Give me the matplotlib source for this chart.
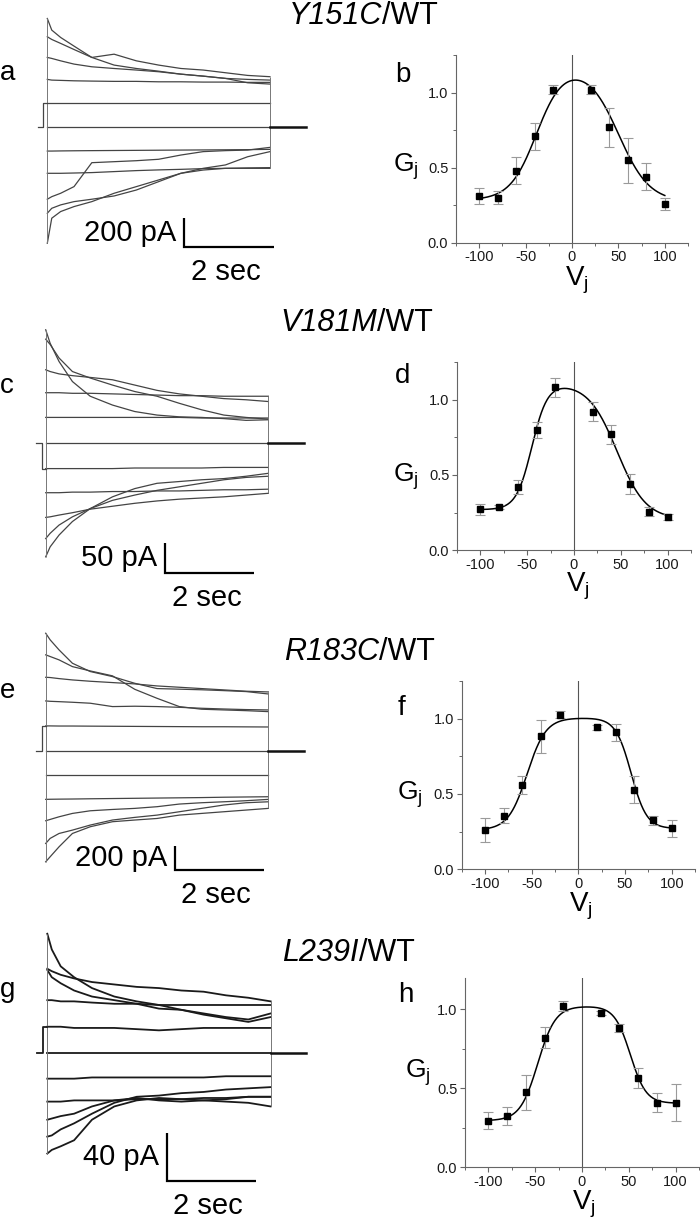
import numpy as np
import matplotlib
matplotlib.use('Agg')
import matplotlib.pyplot as plt
from matplotlib.ticker import MultipleLocator, FormatStrFormatter

plt.rcParams['font.family'] = ['Liberation Sans', 'DejaVu Sans']
plt.rcParams['mathtext.fontset'] = 'custom'
plt.rcParams['mathtext.rm'] = 'Liberation Sans'
plt.rcParams['mathtext.it'] = 'Liberation Sans:italic'
plt.rcParams['axes.unicode_minus'] = False

W, H = 700, 1225

# ---- junctional conductance data (Gj vs Vj) ----
vj = [-100, -80, -60, -40, -20, 20, 40, 60, 80, 100]

gj_y151c = [0.31, 0.30, 0.48, 0.71, 1.02, 1.02, 0.77, 0.55, 0.44, 0.26]
err_y151c = [0.055, 0.045, 0.09, 0.09, 0.027, 0.03, 0.13, 0.15, 0.09, 0.04]
gj_v181m = [0.273, 0.287, 0.42, 0.80, 1.082, 0.92, 0.769, 0.44, 0.256, 0.222]
err_v181m = [0.036, 0.015, 0.047, 0.055, 0.063, 0.063, 0.062, 0.067, 0.03, 0.02]
gj_r183c = [0.26, 0.356, 0.56, 0.882, 1.027, 0.942, 0.909, 0.529, 0.324, 0.271]
err_r183c = [0.08, 0.05, 0.06, 0.11, 0.025, 0.015, 0.058, 0.09, 0.03, 0.058]
gj_l239i = [0.295, 0.325, 0.475, 0.82, 1.02, 0.977, 0.884, 0.563, 0.41, 0.41]
err_l239i = [0.054, 0.055, 0.11, 0.065, 0.03, 0.015, 0.025, 0.063, 0.06, 0.12]

# two-sided Boltzmann fit parameters: gmax, gmin_l, v0_l, a_l, gmin_r, v0_r, a_r
fit_y151c = [1.18, 0.24, -38, 0.07, 0.23, 50, 0.06]
fit_v181m = [1.11, 0.243, -45, 0.12, 0.185, 46, 0.065]
fit_r183c = [1.005, 0.259, -55, 0.099, 0.269, 56.5, 0.12]
fit_l239i = [1.02, 0.289, -47.2, 0.106, 0.397, 51.6, 0.119]

# ---- current traces (pA) sampled during the 5 s voltage pulse ----
t_pulse = [0, 0.1, 0.3, 0.6, 1.0, 1.5, 2.0, 2.5, 3.0, 3.5, 4.0, 4.5, 5.0]

traces_y151c = [
    [764, 682, 630, 569, 489, 512, 465, 435, 411, 400, 381, 362, 353],
    [635, 616, 588, 545, 489, 435, 411, 392, 371, 357, 341, 310, 301],
    [489, 482, 465, 442, 423, 411, 400, 388, 371, 357, 341, 334, 329],
    [334, 329, 327, 324, 322, 320, 320, 317, 317, 315, 315, 313, 313],
    [165, 165, 165, 165, 165, 165, 165, 165, 165, 165, 165, 165, 165],
    [0, 0, 0, 0, 0, 0, 0, 0, 0, 0, 0, 0, 0],
    [-172, -172, -171, -170, -169, -168, -167, -166, -165, -164, -163, -162, -160],
    [-329, -329, -329, -327, -324, -317, -310, -305, -301, -296, -294, -291, -289],
    [-512, -494, -470, -423, -254, -247, -240, -230, -200, -176, -169, -165, -146],
    [-611, -576, -552, -529, -512, -489, -447, -388, -329, -294, -270, -212, -176],
    [-823, -646, -599, -564, -529, -470, -423, -376, -329, -306, -294, -294, -294],
]
traces_v181m = [
    [193, 170, 139, 105, 80, 65, 54, 48, 45, 44, 42, 39, 40],
    [177, 168, 145, 122, 111, 99, 88, 80, 68, 57, 48, 44, 41],
    [125, 122, 118, 115, 112, 108, 99, 90, 84, 80, 76, 74, 71],
    [86, 86, 86, 85, 85, 84, 83, 82, 81, 81, 80, 80, 80],
    [44, 44, 44, 44, 44, 44, 44, 44, 44, 43, 43, 43, 43],
    [0, 0, 0, 0, 0, 0, 0, 0, 0, 0, 0, 0, 0],
    [-43, -43, -43, -43, -43, -43, -42, -42, -42, -42, -41, -41, -41],
    [-84, -84, -84, -83, -83, -82, -82, -81, -81, -80, -79, -79, -78],
    [-126, -125, -122, -118, -112, -107, -102, -98, -95, -93, -91, -88, -85],
    [-162, -153, -139, -125, -111, -97, -88, -80, -74, -68, -62, -58, -56],
    [-193, -176, -156, -133, -111, -91, -77, -68, -65, -62, -60, -56, -51],
]
traces_r183c = [
    [981, 926, 842, 731, 662, 620, 564, 520, 515, 510, 503, 495, 475],
    [801, 787, 759, 703, 667, 626, 514, 439, 370, 348, 342, 336, 328],
    [614, 612, 603, 592, 581, 570, 559, 542, 531, 520, 509, 498, 492],
    [417, 414, 411, 406, 398, 370, 373, 370, 364, 356, 350, 345, 342],
    [209, 209, 208, 208, 207, 206, 205, 204, 203, 202, 202, 201, 200],
    [0, 0, 0, 0, 0, 0, 0, 0, 0, 0, 0, 0, 0],
    [-200, -200, -200, -200, -200, -200, -200, -200, -200, -200, -200, -200, -200],
    [-403, -402, -401, -400, -398, -396, -394, -392, -390, -388, -385, -383, -381],
    [-581, -570, -548, -520, -498, -487, -478, -464, -442, -431, -423, -414, -403],
    [-770, -728, -687, -659, -617, -575, -553, -534, -506, -478, -450, -431, -423],
    [-923, -881, -798, -687, -631, -589, -575, -562, -534, -520, -506, -492, -478],
]
traces_l239i = [
    [99, 86, 72, 63, 54, 47, 43, 40, 36, 32, 29, 26, 30],
    [70, 68, 65, 62, 59, 57, 55, 54, 52, 51, 48, 46, 43],
    [69, 63, 58, 52, 47, 44, 41, 37, 36, 33, 30, 28, 33],
    [44, 44, 43, 43, 42, 41, 41, 40, 40, 40, 40, 40, 40],
    [22, 22, 22, 21, 21, 21, 20, 19, 20, 21, 21, 21, 21],
    [0, 0, 0, 0, 0, 0, 0, 0, 0, 0, 0, 0, 0],
    [-21, -21, -21, -21, -20, -20, -20, -20, -20, -20, -19, -19, -19],
    [-40, -40, -40, -39, -39, -39, -38, -38, -38, -37, -37, -36, -36],
    [-55, -54, -52, -50, -44, -39, -37, -39, -40, -39, -38, -36, -36],
    [-69, -68, -63, -58, -50, -41, -36, -35, -33, -32, -30, -29, -28],
    [-83, -80, -77, -72, -55, -44, -39, -37, -38, -39, -40, -41, -44],
]

# level of the short pre-pulse step seen before each record (pA)
prestep_pa = [165, -43, 209, 22]

fig = plt.figure(figsize=(W / 100, H / 100), dpi=100)
PT = 0.72  # points per pixel at 100 dpi


def fx(x):
    return x / W


def fy(y):
    return 1 - y / H


def boltz(v, p):
    gmax, gl, vl, al, gr, vr, ar = p
    up = gl + (1 - gl) / (1 + np.exp(-al * (v - vl)))
    down = gr + (1 - gr) / (1 + np.exp(ar * (v - vr)))
    return gmax * up * down


def trace_panel(traces, pre, t0_px, pps, base_px, pa_px, top_px, bot_px,
                bar_t, bar_i, bar_pa, bar_label, color, lw):
    left, right = 20, 330
    ax = fig.add_axes([fx(left), fy(bot_px), (right - left) / W, (bot_px - top_px) / H])
    ax.set_xlim((left - t0_px) / pps, (right - t0_px) / pps)
    ax.set_ylim((base_px - bot_px) * pa_px, (base_px - top_px) * pa_px)
    ax.axis('off')
    for tr in traces:
        ax.plot(t_pulse, tr, color=color, lw=lw)
    first = [tr[0] for tr in traces]
    last = [tr[-1] for tr in traces]
    ax.vlines(0, min(first), max(first), color='#777777', lw=0.7)
    ax.vlines(t_pulse[-1], min(last), max(last), color='#777777', lw=0.7)
    # holding level before and after the pulse
    ax.plot([-0.22, -0.09, -0.09, 0], [0, 0, pre, pre], color=color, lw=lw)
    ax.plot([t_pulse[-1], 5.8], [0, 0], color='#111111', lw=1.8)
    # scale bar
    ax.plot([bar_t, bar_t, bar_t + 2], [bar_i + bar_pa, bar_i, bar_i],
            color='k', lw=1.6, solid_joinstyle='miter', solid_capstyle='butt')
    ax.annotate(bar_label, (bar_t, bar_i + bar_pa / 2), xytext=(-8 * PT, 0),
                textcoords='offset points', ha='right', va='center', fontsize=21)
    ax.annotate('2 sec', (bar_t + 1, bar_i), xytext=(-3 * PT, -25 * PT),
                textcoords='offset points', ha='center', va='center', fontsize=21)
    return ax


def gj_panel(gj, err, fit, left, top, width, height, ytop):
    ax = fig.add_axes([fx(left), fy(top + height), width / W, height / H])
    ax.set_xlim(-125, 125)
    ax.set_ylim(0, ytop)
    for s in ['top', 'right']:
        ax.spines[s].set_visible(False)
    for s in ['left', 'bottom']:
        ax.spines[s].set_color('#666666')
        ax.spines[s].set_linewidth(0.8)
    ax.axvline(0, color='#555555', lw=0.8)
    ax.xaxis.set_major_locator(MultipleLocator(50))
    ax.xaxis.set_minor_locator(MultipleLocator(25))
    ax.yaxis.set_major_locator(MultipleLocator(0.5))
    ax.yaxis.set_minor_locator(MultipleLocator(0.25))
    ax.yaxis.set_major_formatter(FormatStrFormatter('%.1f'))
    ax.tick_params(which='major', direction='out', length=3.5, width=0.8,
                   color='#666666', labelcolor='#1a1a1a', labelsize=10.5, pad=2)
    ax.tick_params(which='minor', direction='out', length=2, width=0.7, color='#666666')
    v = np.linspace(-100, 100, 400)
    ax.plot(v, boltz(v, fit), color='k', lw=1.1)
    ax.errorbar(vj, gj, yerr=err, fmt='none', ecolor='#9a9a9a', elinewidth=0.8,
                capsize=3.5, capthick=0.8)
    ax.plot(vj, gj, 's', color='k', ms=4.5, zorder=3)
    return ax


trace_panel(traces_y151c, prestep_pa[0], 47.3, 44.53, 126.7, 7.06, 0, 300,
            3.08, -847, 200, '200 pA', '#444444', 0.9)
trace_panel(traces_v181m, prestep_pa[1], 45.7, 44.53, 443.3, 1.70, 300, 610,
            2.68, -220, 50, '50 pA', '#444444', 0.9)
trace_panel(traces_r183c, prestep_pa[2], 45.7, 44.53, 751, 8.33, 600, 905,
            2.90, -991, 200, '200 pA', '#444444', 0.9)
trace_panel(traces_l239i, prestep_pa[3], 47.3, 44.67, 1053.3, 0.828, 900, 1225,
            2.67, -106, 40, '40 pA', '#1a1a1a', 1.3)

gj_panel(gj_y151c, err_y151c, fit_y151c, 456, 55, 232, 187.7, 1.25)
gj_panel(gj_v181m, err_v181m, fit_v181m, 457, 362, 234, 188.3, 1.25)
gj_panel(gj_r183c, err_r183c, fit_r183c, 461.7, 681, 233.4, 188.3, 1.25)
gj_panel(gj_l239i, err_l239i, fit_l239i, 464.9, 977.7, 234.2, 189.6, 1.2)

# titles: mutant name in italics, "/WT" upright
titles = [('Y151C', 382, 24), ('V181M', 377, 331), ('R183C', 379, 660), ('L239I', 359, 961)]
for name, xs, yb in titles:
    fig.text(fx(xs), fy(yb), name, style='italic', ha='right', va='baseline', fontsize=22)
    fig.text(fx(xs), fy(yb), '/WT', ha='left', va='baseline', fontsize=22)

# panel letters
for lab, x, yb in [('a', 0, 80), ('c', 0, 393), ('e', 0, 698), ('g', 0, 997),
                   ('b', 395, 82), ('d', 395, 383), ('f', 398, 715), ('h', 398, 1002)]:
    fig.text(fx(x), fy(yb), lab, ha='left', va='baseline', fontsize=20)

# axis labels
for x, yb in [(393, 172), (393, 482), (397, 800), (405, 1078)]:
    fig.text(fx(x), fy(yb), r'G$_\mathrm{j}$', ha='left', va='baseline', fontsize=19)
for x, yb in [(565, 285), (566, 592), (569, 911), (572, 1209)]:
    fig.text(fx(x), fy(yb), r'V$_\mathrm{j}$', ha='left', va='baseline', fontsize=20)

fig.savefig('out.png', dpi=100)
